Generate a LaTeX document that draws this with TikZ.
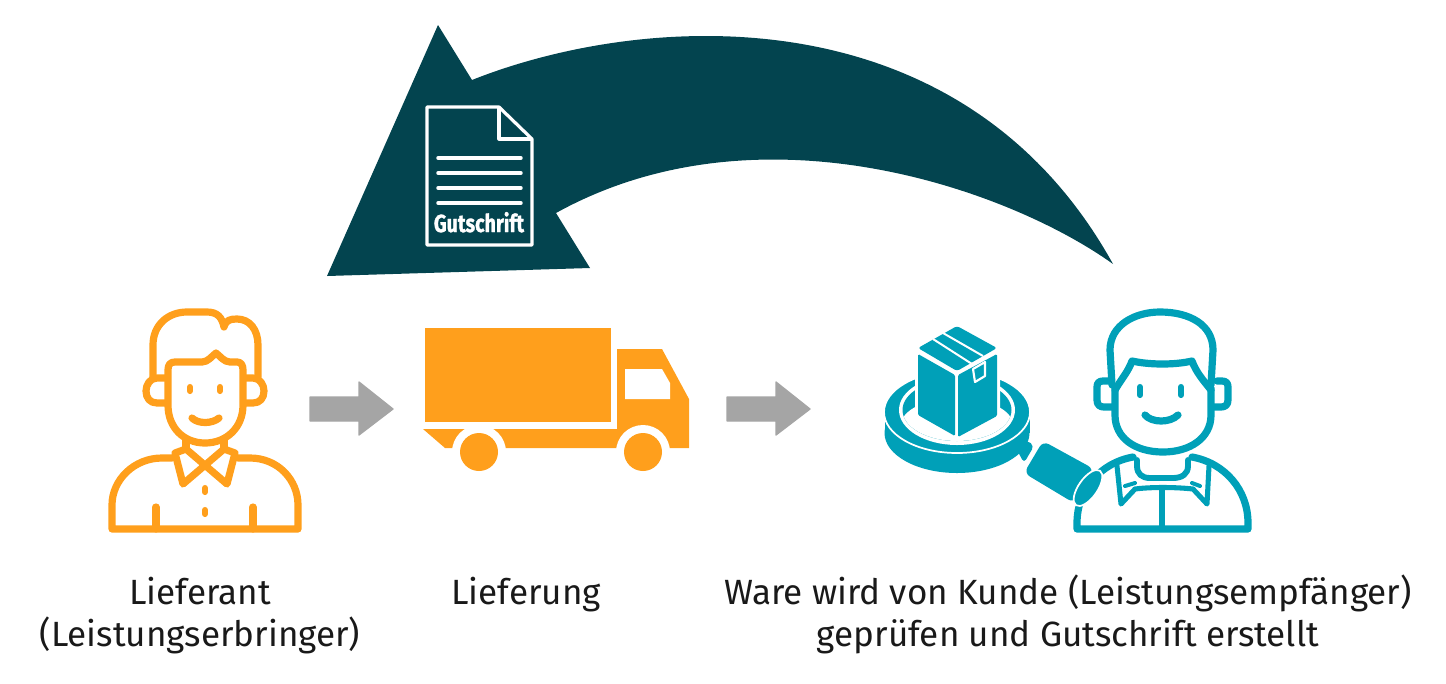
\documentclass[tikz,border=0pt]{standalone}
\usepackage{fontspec}
\setmainfont{Fira Sans}
\newfontfamily\gutfont[FakeStretch=0.8,FakeBold=1.2]{Fira Sans Bold}
\definecolor{orng}{HTML}{FF9F1C}
\definecolor{teal2}{HTML}{00A0B8}
\definecolor{darkt}{HTML}{03444F}
\definecolor{greya}{HTML}{A5A5A5}
\tikzset{
  lbl/.style={font=\fontsize{26.3pt}{32pt}\selectfont,align=center,anchor=base,inner sep=0pt,text=black!90},
  olin/.style={draw=orng,line width=5.4pt,line cap=round,line join=round,fill=none},
  tlin/.style={draw=teal2,line width=5.4pt,line cap=round,line join=round,fill=none},
  dot/.style={line width=4.6pt,line cap=round},
  garrow/.style={fill=greya,draw=greya,line width=1pt,line join=round},
  halo/.style={draw=white,line width=1.6pt,fill=teal2,line join=round},
}
\begin{document}
\begin{tikzpicture}[x=0.75pt,y=-0.75pt]
\useasboundingbox (0,0) rectangle (1446,683);
% big arrow
\fill[darkt] (438,25) -- (472,80) .. controls (640,13) and (960,-12) .. (1113,264)
  .. controls (1010,190) and (760,100) .. (556,213) -- (590,268) -- (327,276) -- cycle;
% document
\draw[white,line width=2.4pt,line join=round] (427,107) -- (499,107) -- (532,139) -- (532,245) -- (427,245) -- cycle;
\draw[white,line width=2.4pt,line join=round] (499,107) -- (499,139) -- (532,139);
\foreach \yy in {158,173,188,203}
  \draw[white,line width=2.6pt,line cap=round] (438,\yy) -- (521,\yy);
\node[text=white,inner sep=0pt,anchor=base] (gut) at (479,232) {\gutfont\fontsize{18.5pt}{20pt}\selectfont Gutschrift};
% left person
\draw[olin] (153,377) -- (153,345) .. controls (153,325) and (168,312) .. (187,312) -- (207,312)
  .. controls (217,312) and (222,317) .. (224,327) .. controls (226,320) and (230,319) .. (237,319)
  .. controls (250,319) and (258,330) .. (258,345) -- (258,377);
\draw[olin] (168,370) .. controls (168,365) and (170,362) .. (175,362) -- (202,362)
  .. controls (208,362) and (212,356) .. (216,353) .. controls (220,356) and (224,362) .. (230,362)
  -- (237,362) .. controls (241,362) and (243,365) .. (243,370) -- (243,405)
  .. controls (243,428) and (226,443) .. (205,443) .. controls (184,443) and (168,428) .. (168,405) -- cycle;
\draw[olin] (165,378) -- (157,378) .. controls (150,378) and (146,385) .. (146,391) .. controls (146,398) and (150,403) .. (157,403) -- (165,403);
\draw[olin] (246,378) -- (253,378) .. controls (260,378) and (264,385) .. (264,391) .. controls (264,398) and (260,403) .. (253,403) -- (246,403);
\draw[orng,dot] (190,387) -- (190,391);
\draw[orng,dot] (220,387) -- (220,391);
\draw[olin] (192,418) .. controls (198,424) and (212,424) .. (219,418);
\draw[olin] (186,440) -- (186,449);
\draw[olin] (224,440) -- (224,449);
\draw[olin] (175,453) -- (186,449) -- (227,484) -- (235,453) -- (224,449) -- (183,484) -- cycle;
\draw[olin] (238,458) -- (250,458) .. controls (278,458) and (298,480) .. (298,505) -- (298,529) -- (112,529) -- (112,505)
  .. controls (112,480) and (134,458) .. (162,458) -- (172,458);
\draw[olin] (156,507) -- (156,529);
\draw[olin] (253,507) -- (253,529);
\draw[orng,dot] (205,488) -- (205,492);
\draw[orng,dot] (205,510) -- (205,514);
% arrows
\draw[garrow] (310,397) -- (359,397) -- (359,382) -- (393,409) -- (359,435) -- (359,421) -- (310,421) -- cycle;
\draw[garrow] (727,397) -- (776,397) -- (776,382) -- (810,409) -- (776,435) -- (776,421) -- (727,421) -- cycle;
% truck
\fill[orng] (425,328) rectangle (611,422);
\fill[orng] (423,429) -- (617,429) -- (617,349) -- (662,349) -- (689,399) -- (689,448) -- (445,448) -- cycle;
\fill[white] (625,369) -- (662,369) -- (670,383) -- (670,399) -- (625,399) -- cycle;
\fill[white] (479,452) circle [radius=27];
\fill[white] (643,452) circle [radius=27];
\fill[orng] (479,452) circle [radius=19];
\fill[orng] (643,452) circle [radius=19];
% magnifier
\fill[teal2] (957,433) ellipse [x radius=72.5,y radius=40];
\fill[teal2] (884.5,412) rectangle (1029.5,433);
\filldraw[fill=teal2,draw=white,line width=1.3pt] (957,412) ellipse [x radius=73,y radius=41];
\fill[white] (957,410) ellipse [x radius=58,y radius=35];
\begin{scope}
  \clip (957,410) ellipse [x radius=54.5,y radius=31];
  \fill[teal2] (900,375) rectangle (1015,445);
  \fill[white] (957,425) ellipse [x radius=56,y radius=27];
\end{scope}
\fill[white] (915,343) -- (957,322) -- (1000,343) -- (1000,418) -- (957,441) -- (915,418) -- cycle;
\fill[teal2,rounded corners=2pt] (957,326) -- (997,348) -- (957,371) -- (918,348) -- cycle;
\draw[white,line width=1.5pt] (933,339) -- (972,364);
\draw[white,line width=1.5pt] (943,333) -- (983,356);
\fill[teal2,rounded corners=1pt] (918,354) -- (955,375) -- (955,436) -- (918,415) -- cycle;
\fill[teal2,rounded corners=1pt] (958,375) -- (997,354) -- (997,416) -- (958,437) -- cycle;
\draw[halo] (973,369) -- (985,362) -- (985,376) -- (975,382) -- cycle;
\fill[teal2,rounded corners=3pt] (1017,450) -- (1027,440) -- (1034,446) -- (1024,463) -- cycle;
\fill[teal2,rounded corners=5pt] (1043,441) -- (1094,469) -- (1074,503) -- (1024,473) -- cycle;
% right person
\draw[tlin] (1112,385) -- (1110,350) .. controls (1110,325) and (1135,312) .. (1160,312) .. controls (1190,312) and (1213,325) .. (1213,350) -- (1211,385);
\draw[tlin] (1115,390) .. controls (1122,378) and (1128,372) .. (1132,361) .. controls (1150,365) and (1175,365) .. (1192,361) .. controls (1196,372) and (1203,380) .. (1211,390);
\draw[tlin] (1115,388) -- (1115,415) .. controls (1115,438) and (1135,452) .. (1163,452) .. controls (1190,452) and (1211,438) .. (1211,415) -- (1211,388);
\draw[tlin] (1110,381) -- (1103,381) .. controls (1099,381) and (1097,383) .. (1097,387) -- (1097,400) .. controls (1097,405) and (1100,407) .. (1104,407) -- (1114,407);
\draw[tlin] (1217,381) -- (1222,381) .. controls (1226,381) and (1228,383) .. (1228,387) -- (1228,400) .. controls (1228,405) and (1225,407) .. (1221,407) -- (1213,407);
\draw[teal2,dot] (1140,387) -- (1140,395);
\draw[teal2,dot] (1181,387) -- (1181,395);
\draw[tlin] (1145,415) .. controls (1152,423) and (1170,423) .. (1178,415);
\draw[tlin,line width=4.4pt] (1137,460) -- (1137,466) .. controls (1137,474) and (1142,478) .. (1150,478) -- (1173,478) .. controls (1182,478) and (1188,474) .. (1188,466) -- (1188,460);
\draw[tlin] (1133,457) .. controls (1100,463) and (1077,490) .. (1077,523) -- (1077,529) -- (1248,529) -- (1248,523) .. controls (1248,490) and (1225,463) .. (1192,457);
\draw[tlin,line width=3.8pt] (1117,466) -- (1121,504) -- (1135,489) .. controls (1150,487) and (1175,487) .. (1193,489) -- (1207,504) -- (1209,466);
\draw[tlin,line width=3pt] (1135,483) -- (1125,486);
\draw[tlin,line width=3pt] (1192,483) -- (1200,486);
\draw[tlin,line width=4.4pt] (1162,490) -- (1162,529);
\filldraw[fill=teal2,draw=white,line width=1.3pt,rotate around={55:(1088,488)}] (1088,488) ellipse [x radius=21,y radius=9.5];
% labels
\node[lbl] (l1) at (200,604) {Lieferant};
\node[lbl] (l2) at (200,646) {(Leistungserbringer)};
\node[lbl] (l3) at (526,604) {Lieferung};
\node[lbl] (l4) at (1068,604) {Ware wird von Kunde (Leistungsempfänger)};
\node[lbl] (l5) at (1068,646) {geprüfen und Gutschrift erstellt};
\end{tikzpicture}
\end{document}
